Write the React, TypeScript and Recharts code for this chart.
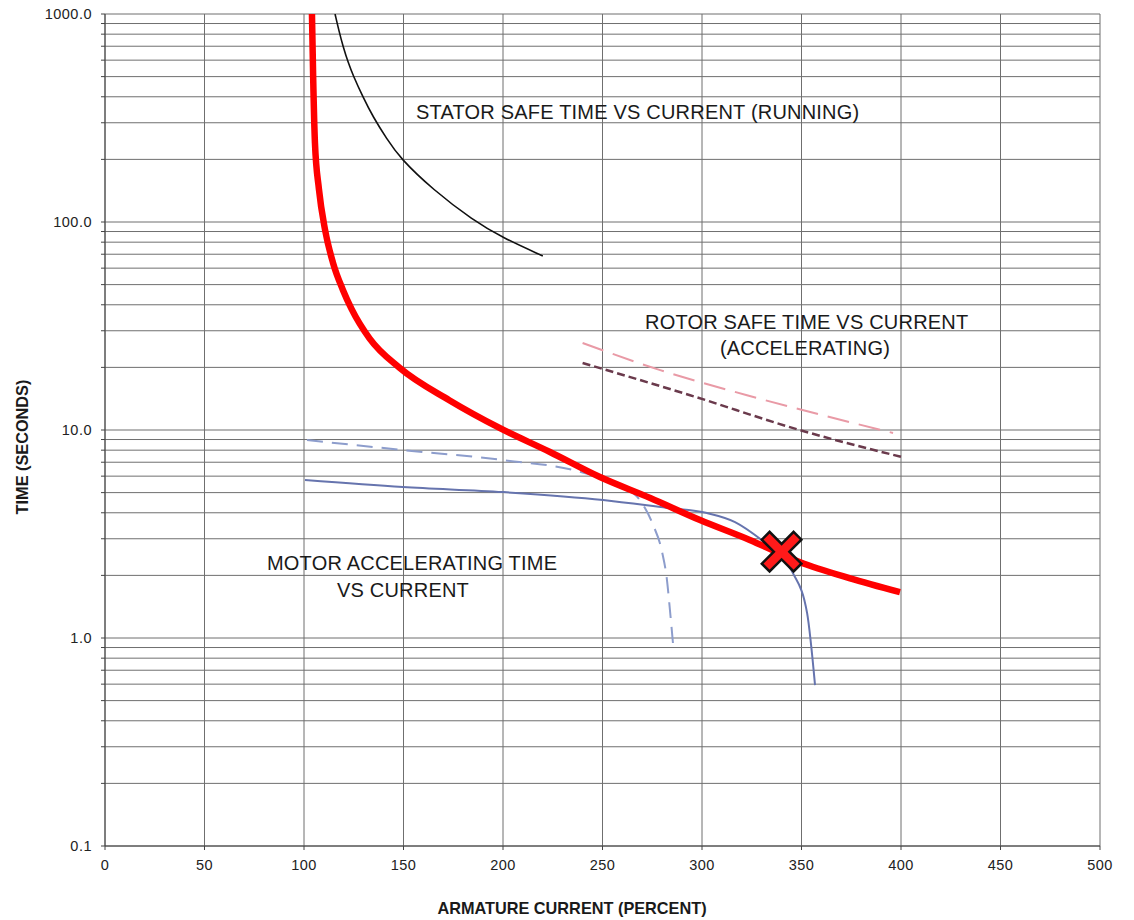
import React from "react";
import { ComposedChart, Line, Scatter, XAxis, YAxis, CartesianGrid } from "recharts";

// Protective relay characteristic (thick red)
const relayCurrent = [104, 104.6, 105.5, 107.5, 110.6, 114.5, 119.6, 124, 133, 148, 173, 198.5, 223.6, 248.7, 274, 299, 324, 349, 374, 399.5];
const relayTime = [1000, 500, 240, 144, 91.5, 64, 47, 38, 27.5, 19.9, 13.9, 10.2, 7.84, 5.94, 4.71, 3.69, 2.96, 2.32, 1.94, 1.66];

// Stator safe time, running
const statorCurrent = [115.6, 117.7, 119.6, 122.3, 124.6, 129.6, 134.7, 141.6, 148.2, 164.8, 184.9, 200, 220];
const statorTime = [1000, 820, 700, 580, 509, 399, 320, 251, 203, 143, 102, 83.8, 68.7];

// Rotor safe time, accelerating (upper / lower)
const rotorHighCurrent = [240, 279, 322.6, 396];
const rotorHighTime = [26.2, 19.4, 14.7, 9.68];
const rotorLowCurrent = [240, 294, 349, 400.5];
const rotorLowTime = [21.0, 14.7, 10.0, 7.41];

// Motor accelerating time, reduced voltage (dashed) and full voltage (solid)
const accelLowCurrent = [101.5, 149.7, 200, 238.7, 258.8, 268.8, 275.4, 279.9, 282.4, 283.9, 285.4];
const accelLowTime = [8.95, 8.01, 7.17, 6.3, 5.4, 4.6, 3.5, 2.6, 1.9, 1.36, 0.946];
const accelFullCurrent = [100.5, 149.7, 200, 250.3, 282.4, 302.5, 316.6, 330, 339, 345.7, 352.8, 356.8];
const accelFullTime = [5.75, 5.32, 5.03, 4.61, 4.22, 3.99, 3.61, 2.96, 2.51, 2.05, 1.32, 0.594];

// Operating point
const tripCurrent = [340];
const tripTime = [2.6];

const xTicks = [0, 50, 100, 150, 200, 250, 300, 350, 400, 450, 500];
const decades = [0.1, 1, 10, 100];
const steps = [1, 2, 3, 4, 5, 6, 7, 8, 9];
const yTicks = [...decades.flatMap((d) => steps.map((s) => +(d * s).toPrecision(3))), 1000];

const zip = (xs: number[], ys: number[]) => xs.map((i, k) => ({ i, t: ys[k] }));

const FONT = "'Liberation Sans', Arial, sans-serif";
const INK = "#1a1a1a";

const isDecade = (v: number) => Math.abs(Math.log10(v) - Math.round(Math.log10(v))) < 1e-6;

function Cross(props: any) {
  const { cx, cy } = props;
  const a = 22.5;
  const b = 5.5;
  const pts = [
    [-b, -a], [b, -a], [b, -b], [a, -b], [a, b], [b, b],
    [b, a], [-b, a], [-b, b], [-a, b], [-a, -b], [-b, -b],
  ]
    .map(([x, y]) => `${x},${y}`)
    .join(" ");
  return (
    <polygon
      points={pts}
      transform={`translate(${cx},${cy}) rotate(45)`}
      fill="#ff1a1a"
      stroke="#111"
      strokeWidth={2.5}
    />
  );
}

const tickStyle = { fill: "#222", fontSize: 14.5, fontFamily: FONT, letterSpacing: 0.5 };

export default function App() {
  return (
    <div style={{ position: "absolute", left: 0, top: 0, width: 1134, height: 920, background: "#fff" }}>
      <ComposedChart width={1134} height={920} margin={{ top: 14, right: 34, bottom: 44, left: 0 }}>
        <CartesianGrid stroke="#6f6f6f" strokeWidth={1} />
        <XAxis
          type="number"
          dataKey="i"
          domain={[0, 500]}
          ticks={xTicks}
          interval={0}
          height={30}
          tickSize={4}
          tickMargin={10}
          stroke="#444"
          tick={tickStyle}
        />
        <YAxis
          type="number"
          dataKey="t"
          scale="log"
          domain={[0.1, 1000]}
          allowDataOverflow
          ticks={yTicks}
          interval={0}
          width={105}
          tickSize={4}
          tickMargin={9}
          stroke="#444"
          tickFormatter={(v: number) => (isDecade(v) ? v.toFixed(1) : "")}
          tick={tickStyle}
        />
        <Line data={zip(statorCurrent, statorTime)} dataKey="t" type="basis" stroke="#111" strokeWidth={1.6} dot={false} isAnimationActive={false} />
        <Line data={zip(rotorHighCurrent, rotorHighTime)} dataKey="t" type="monotone" stroke="#e99aa6" strokeWidth={2} strokeDasharray="22 10" dot={false} isAnimationActive={false} />
        <Line data={zip(rotorLowCurrent, rotorLowTime)} dataKey="t" type="monotone" stroke="#6a3a4c" strokeWidth={2.5} strokeDasharray="8 4" dot={false} isAnimationActive={false} />
        <Line data={zip(accelLowCurrent, accelLowTime)} dataKey="t" type="monotone" stroke="#8d9dcc" strokeWidth={2} strokeDasharray="16 9" dot={false} isAnimationActive={false} />
        <Line data={zip(accelFullCurrent, accelFullTime)} dataKey="t" type="monotone" stroke="#6674ae" strokeWidth={2} dot={false} isAnimationActive={false} />
        <Line data={zip(relayCurrent, relayTime)} dataKey="t" type="monotone" stroke="#ff0000" strokeWidth={6.5} dot={false} isAnimationActive={false} />
        <Scatter data={zip(tripCurrent, tripTime)} dataKey="t" shape={<Cross />} isAnimationActive={false} />
      </ComposedChart>
      <svg width={1134} height={920} style={{ position: "absolute", left: 0, top: 0, pointerEvents: "none" }}>
        <g fontFamily={FONT} fill={INK} fontSize={20} letterSpacing={0.2}>
          <text x={416} y={119}>STATOR SAFE TIME VS CURRENT (RUNNING)</text>
          <text x={645} y={329}>ROTOR SAFE TIME VS CURRENT</text>
          <text x={805} y={355} textAnchor="middle">(ACCELERATING)</text>
          <text x={267} y={570}>MOTOR ACCELERATING TIME</text>
          <text x={337} y={597}>VS CURRENT</text>
        </g>
        <g fontFamily={FONT} fill={INK} fontSize={16.3} fontWeight="bold">
          <text x={572} y={914} textAnchor="middle">ARMATURE CURRENT (PERCENT)</text>
          <text x={22} y={447} textAnchor="middle" dominantBaseline="central" transform="rotate(-90 22 447)">
            TIME (SECONDS)
          </text>
        </g>
      </svg>
    </div>
  );
}
